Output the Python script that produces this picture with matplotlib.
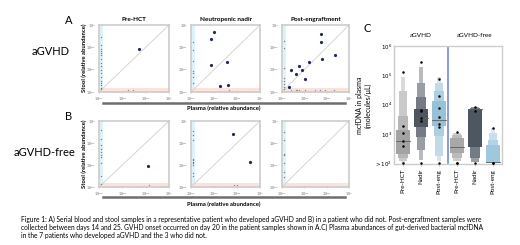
import numpy as np
import matplotlib
matplotlib.use("Agg")
import matplotlib.pyplot as plt
from matplotlib.lines import Line2D

plt.rcParams['font.family'] = ['Lato', 'DejaVu Sans']
plt.rcParams['mathtext.fontset'] = 'dejavusans'

W, H = 520, 245

# ---- panel A / B data: relative abundances (plasma x, stool y) ----
a1_x = [0.054]
a1_y = [0.087]
a1_stool_only = [0.30, 0.13, 0.083, 0.071, 0.055, 0.046, 0.030, 0.019, 0.014, 0.010,
                 0.0074, 0.0049, 0.0030, 0.0025, 0.0021, 0.0015, 0.0013]
a1_plasma_only = [0.018, 0.030]

a2_x = [0.0105, 0.0076, 0.0076, 0.036, 0.019, 0.040]
a2_y = [0.50, 0.23, 0.017, 0.022, 0.0019, 0.0021]
a2_stool_only = [0.18, 0.076, 0.025, 0.0089, 0.0074, 0.0047, 0.0026]
a2_plasma_only = [0.047]

a3_x = [0.054, 0.054, 0.23, 0.060, 0.016, 0.0056, 0.0026, 0.0080, 0.0043, 0.011, 0.0021]
a3_y = [0.38, 0.17, 0.045, 0.029, 0.022, 0.015, 0.0095, 0.0095, 0.0063, 0.0037, 0.0017]
a3_stool_only = [0.20, 0.091, 0.012, 0.0042, 0.0030, 0.0022, 0.0017, 0.0013]
a3_plasma_only = [0.0026, 0.0043, 0.0049, 0.0056, 0.011, 0.030, 0.052, 0.083, 0.21]

b1_x = [0.12]
b1_y = [0.0091]
b1_stool_only = [0.38, 0.16, 0.081, 0.051, 0.041, 0.029, 0.022, 0.012, 0.0032, 0.0013]
b1_plasma_only = [0.14]

b2_x = [0.065, 0.35]
b2_y = [0.26, 0.014]
b2_stool_only = [0.35, 0.24, 0.14, 0.019, 0.017, 0.014, 0.012, 0.0098, 0.0042, 0.0032]
b2_plasma_only = [0.076, 0.10]

b3_x = []
b3_y = []
b3_stool_only = [0.33, 0.13, 0.032, 0.028, 0.012, 0.005, 0.003]
b3_plasma_only = []

titles = ["Pre-HCT", "Neutropenic nadir", "Post-engraftment"]

# ---- panel C data: mcfDNA (molecules/uL), letter-value levels (innermost first) ----
c_labels = ["Pre-HCT", "Nadir", "Post-eng", "Pre-HCT", "Nadir", "Post-eng"]
c_levels = [
    [(205, 1410), (158, 3980), (120, 28200), (105, 89000)],
    [(1780, 7080), (794, 17800), (282, 56200), (126, 200000)],
    [(1820, 12900), (851, 28200), (178, 56200), (120, 91000)],
    [(229, 741), (155, 955), (120, 1100)],
    [(355, 7240), (155, 7800), (112, 8300)],
    [(105, 407), (105, 646), (105, 1120), (105, 1580)],
]
c_medians = [600, 3400, 3000, 370, 6900, 110]
c_points = [
    [135000, 1950, 1050, 590, 390, 100],
    [295000, 6760, 6310, 3390, 2690, 100],
    [75900, 19000, 7760, 3720, 2240, 1700, 100],
    [1150, 100, 100],
    [8300, 6300, 100],
    [1620, 100, 100],
]
c_colors = ["#a3a3a3", "#4d5661", "#97c1d9", "#a8a8a8", "#4d5661", "#9fc7de"]


def px_axes(fig, l, t, r, b):
    return fig.add_axes([l / W, 1 - b / H, (r - l) / W, (b - t) / H])


def scatter_panel(ax, x, y, stool_only, plasma_only):
    ax.set_xscale('log')
    ax.set_yscale('log')
    ax.set_xlim(1e-3, 1)
    ax.set_ylim(1e-3, 1)
    ax.axvspan(1e-3, 1.5e-3, color='#def2f8', lw=0, zorder=0)
    ax.axhspan(1e-3, 1.5e-3, color='#fbe3db', lw=0, zorder=0)
    ax.plot([1e-3, 1], [1e-3, 1], color='#cfcfcf', lw=0.6, zorder=1)
    ax.plot(np.full(len(stool_only), 1.2e-3), stool_only, 'o', ms=1.0,
            color='#6f7f9c', mew=0, zorder=2)
    ax.plot(plasma_only, np.full(len(plasma_only), 1.2e-3), 'o', ms=1.0,
            color='#8e8ea6', mew=0, zorder=2)
    ax.plot(x, y, 'o', ms=2.3, color='#1d2b5e', mew=0, zorder=3)
    ticks = [1e-3, 1e-2, 1e-1, 1]
    labels = ['$10^{-3}$', '$10^{-2}$', '$10^{-1}$', '$10^{0}$']
    ax.set_xticks(ticks)
    ax.set_xticklabels(labels)
    ax.set_yticks(ticks)
    ax.set_yticklabels(labels)
    ax.tick_params(labelsize=2.4, labelcolor='#666666', length=1.0, width=0.4,
                   color='#aaaaaa', pad=1.2)
    ax.tick_params(which='minor', length=0.8, width=0.3, color='#aaaaaa')
    ax.tick_params(axis='y', which='minor', length=0)
    for s in ax.spines.values():
        s.set_color('#cccccc')
        s.set_linewidth(1.2)


fig = plt.figure(figsize=(W / 100, H / 100), dpi=100)

row_a = [(a1_x, a1_y, a1_stool_only, a1_plasma_only),
         (a2_x, a2_y, a2_stool_only, a2_plasma_only),
         (a3_x, a3_y, a3_stool_only, a3_plasma_only)]
row_b = [(b1_x, b1_y, b1_stool_only, b1_plasma_only),
         (b2_x, b2_y, b2_stool_only, b2_plasma_only),
         (b3_x, b3_y, b3_stool_only, b3_plasma_only)]
lefts = [(99, 169), (191, 260), (282, 349)]

for i, d in enumerate(row_a):
    ax = px_axes(fig, lefts[i][0], 25, lefts[i][1], 92)
    scatter_panel(ax, *d)
    ax.set_title(titles[i], fontsize=4.6, fontweight='bold', pad=3)
for i, d in enumerate(row_b):
    ax = px_axes(fig, lefts[i][0], 121, lefts[i][1], 187)
    scatter_panel(ax, *d)

# shared axis labels and separator lines
for yl, yline, ytxt in [(58, 102.5, 108.5), (154, 197, 204)]:
    fig.text(84 / W, 1 - yl / H, "Stool (relative abundance)", rotation=90,
             fontsize=4.2, fontweight='bold', ha='center', va='center')
    fig.add_artist(Line2D([103 / W, 345 / W], [1 - yline / H] * 2,
                          color='#6e6e6e', lw=1.8))
    fig.text(224 / W, 1 - ytxt / H, "Plasma (relative abundance)",
             fontsize=4.2, fontweight='bold', ha='center', va='center')

fig.text(69 / W, 1 - 20 / H, "A", fontsize=8, ha='center', va='center')
fig.text(69 / W, 1 - 117 / H, "B", fontsize=8, ha='center', va='center')
fig.text(367 / W, 1 - 29 / H, "C", fontsize=8, ha='center', va='center')
fig.text(51 / W, 1 - 51 / H, "aGVHD", fontsize=8, ha='center', va='center')
fig.text(45 / W, 1 - 152 / H, "aGVHD-free", fontsize=8, ha='center', va='center')

# ---- panel C: letter-value (boxen) plot ----
axc = px_axes(fig, 394, 46, 502, 164)
axc.set_yscale('log')
axc.set_xlim(-0.5, 5.5)
axc.set_ylim(95, 1e6)
shades = [0.0, 0.22, 0.42, 0.6]
widths = [0.8, 0.58, 0.4, 0.24]
for i, levels in enumerate(c_levels):
    base = np.array(matplotlib.colors.to_rgb(c_colors[i]))
    for k in range(len(levels) - 1, -1, -1):
        lo, hi = levels[k]
        col = base + (1 - base) * shades[k]
        axc.bar(i, hi - lo, bottom=lo, width=widths[k], color=col, lw=0, zorder=2)
    axc.plot([i - widths[0] / 2, i + widths[0] / 2], [c_medians[i]] * 2,
             color='#5f5f5f', lw=0.6, zorder=3)
    axc.plot(np.full(len(c_points[i]), i), c_points[i], 'o', ms=1.8,
             color='black', mew=0, zorder=4)
axc.axvline(2.5, ymin=0.01, ymax=0.99, color='#6d8fd6', lw=1.2, zorder=1)
axc.set_xticks(range(len(c_labels)))
axc.set_xticklabels(c_labels, rotation=90, fontsize=4.5)
axc.set_yticks([1e2, 1e3, 1e4, 1e5, 1e6])
axc.set_yticklabels(['$>10^2$', '$10^3$', '$10^4$', '$10^5$', '$10^6$'])
axc.minorticks_off()
axc.tick_params(axis='y', labelsize=4.0, length=0, pad=1.5)
axc.tick_params(axis='x', length=1.5, width=0.4, color='#999999', pad=2)
axc.set_ylabel("mcfDNA in plasma\n(molecules/\u03bcL)", fontsize=5, labelpad=2,
               linespacing=1.1)
for s in axc.spines.values():
    s.set_color('#cccccc')
    s.set_linewidth(1.0)
axc.text(1, 2.3e6, "aGVHD", fontsize=4.6, ha='center', va='center')
axc.text(4, 2.3e6, "aGVHD-free", fontsize=4.6, ha='center', va='center')

caption = [
    "Figure 1: A) Serial blood and stool samples in a representative patient who developed aGVHD and B) in a patient who did not. Post-engraftment samples were",
    "collected between days 14 and 25. GVHD onset occurred on day 20 in the patient samples shown in A.C) Plasma abundances of gut-derived bacterial mcfDNA",
    "in the 7 patients who developed aGVHD and the 3 who did not.",
]
for j, line in enumerate(caption):
    fig.text(21 / W, 1 - (219 + 8 * j) / H, line, fontsize=4.8, ha='left', va='center')

fig.savefig("out.png", dpi=100)
